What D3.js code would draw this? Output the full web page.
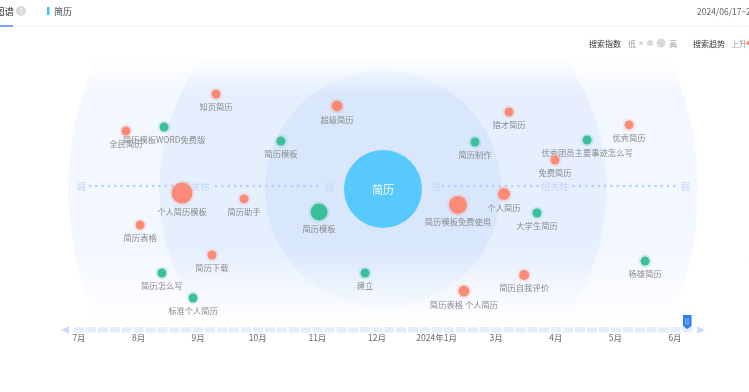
<!DOCTYPE html>
<html>
<head>
<meta charset="utf-8">
<script src="https://cdnjs.cloudflare.com/ajax/libs/d3/7.8.5/d3.min.js"></script>
<style>
html, body { margin: 0; padding: 0; background: #fff; overflow: hidden; }
svg { display: block; filter: blur(0.5px); }
text { font-family: "Noto Sans CJK SC", "Noto Sans", sans-serif; }
</style>
</head>
<body>
<script>
// keywords around 简历
var keywords = ["知页简历","超级简历","猎才简历","优秀简历","简历模板WORD免费版","全民简历","简历模板","简历制作","优秀团员主要事迹怎么写","免费简历","个人简历模板","简历助手","简历模板","个人简历","简历模板免费使用","大学生简历","简历表格","简历下载","简历怎么写","标准个人简历","建立","简历表格 个人简历","简历自我评价","杨雄简历"];
var relevance = [-53,-14.6,40,78.1,-69.5,-81.6,-32.4,29.2,64.8,54.6,-63.8,-44.1,-20.3,38.4,23.8,48.9,-77.1,-54.3,-70.2,-60.3,-5.7,25.7,44.8,83.2];
var spread = [72.5,63.4,58.8,48.9,47.3,44.3,36.6,35.9,37.4,22.1,-3.1,-7.6,-17.6,-3.8,-12.2,-18.3,-27.5,-50.4,-64.1,-83.2,-64.1,-77.9,-65.6,-55];
var searchIndex = [20,30,20,20,20,20,20,20,20,20,110,20,72,36,81,20,20,20,20,20,20,30,25,20];
var trend = ["up","up","up","up","down","up","down","down","down","up","up","up","down","up","up","down","up","up","down","down","down","up","up","down"];
var months = ["7月","8月","9月","10月","11月","12月","2024年1月","3月","4月","5月","6月"];
var rings = [100, 71, 37.5];

var width = 749;
var height = 392;

var x = d3.scaleLinear().domain([-100, 100]).range([68, 698]);
var y = d3.scaleLinear().domain([-100, 100]).range([320, 58]);
var r = d3.scaleSqrt().domain([0, 121]).range([0, 11]);
var trendColor = d3.scaleOrdinal().domain(["up", "down"]).range(["#fb8b76", "#3cbf9b"]);
var timeX = d3.scalePoint().domain(months).range([79, 675]);

var svg = d3.select("body").append("svg")
    .attr("width", width)
    .attr("height", height);

var defs = svg.append("defs");
defs.append("clipPath").attr("id", "plot")
    .append("rect").attr("x", 0).attr("y", 58).attr("width", width).attr("height", 266);

var fadeTop = defs.append("linearGradient").attr("id", "fadeTop").attr("x2", 0).attr("y2", 1);
fadeTop.append("stop").attr("offset", 0).attr("stop-color", "#fff").attr("stop-opacity", 1);
fadeTop.append("stop").attr("offset", 1).attr("stop-color", "#fff").attr("stop-opacity", 0);
var fadeBottom = defs.append("linearGradient").attr("id", "fadeBottom").attr("x2", 0).attr("y2", 1);
fadeBottom.append("stop").attr("offset", 0).attr("stop-color", "#fff").attr("stop-opacity", 0);
fadeBottom.append("stop").attr("offset", 1).attr("stop-color", "#fff").attr("stop-opacity", 1);

// background rings
var cx = x(0), cy = y(0);
var ringColors = ["#f3f7ff", "#e6effe", "#d9e7fd"];
var back = svg.append("g").attr("clip-path", "url(#plot)");
back.selectAll("circle").data(rings).enter().append("circle")
    .attr("cx", cx)
    .attr("cy", cy)
    .attr("r", function(d){ return x(d) - cx; })
    .attr("fill", function(d, i){ return ringColors[i]; });
back.append("rect").attr("x", 0).attr("y", 58).attr("width", width).attr("height", 35).attr("fill", "url(#fadeTop)");
back.append("rect").attr("x", 0).attr("y", 248).attr("width", width).attr("height", 76).attr("fill", "url(#fadeBottom)");

// header
svg.append("line").attr("x1", 0).attr("x2", width).attr("y1", 26).attr("y2", 26).attr("stroke", "#ececec").attr("stroke-width", 1);
svg.append("rect").attr("x", 0).attr("y", 25).attr("width", 13).attr("height", 2).attr("fill", "#7aa7f5");
svg.append("text").attr("x", 14).attr("y", 11).attr("text-anchor", "end").attr("dominant-baseline", "central")
    .attr("font-size", 9.5).attr("fill", "#333").text("图谱");
svg.append("circle").attr("cx", 21).attr("cy", 11).attr("r", 5).attr("fill", "#d9d9d9");
svg.append("text").attr("x", 21).attr("y", 11).attr("text-anchor", "middle").attr("dominant-baseline", "central")
    .attr("font-size", 7).attr("fill", "#fff").text("?");
svg.append("rect").attr("x", 47).attr("y", 7).attr("width", 2.5).attr("height", 8).attr("fill", "#2fc6f5");
svg.append("text").attr("x", 54).attr("y", 11).attr("dominant-baseline", "central")
    .attr("font-size", 9).attr("fill", "#444").text("简历");
svg.append("text").attr("x", 697).attr("y", 11).attr("dominant-baseline", "central")
    .attr("font-size", 8.5).attr("fill", "#666").text("2024/06/17~2024/06/23");

// legend
var legendText = [["搜索指数", 589, "#333"], ["低", 628, "#999"], ["高", 669, "#999"], ["搜索趋势", 693, "#333"], ["上升", 731, "#999"]];
svg.selectAll(".legend").data(legendText).enter().append("text")
    .attr("class", "legend")
    .attr("x", function(d){ return d[1]; })
    .attr("y", 43)
    .attr("dominant-baseline", "central")
    .attr("font-size", 8)
    .attr("fill", function(d){ return d[2]; })
    .text(function(d){ return d[0]; });
svg.selectAll(".legendDot").data([[641, 2], [650, 3], [661, 4.5]]).enter().append("circle")
    .attr("cx", function(d){ return d[0]; })
    .attr("cy", 43)
    .attr("r", function(d){ return d[1]; })
    .attr("fill", "#d8d8d8");
svg.append("circle").attr("cx", 748.5).attr("cy", 43).attr("r", 2).attr("fill", "#fb8b76");

// relevance axis, dots stop around the labels
var axisColor = "#c3d7fb";
var axisSegs = [[-93, -63.5], [-53, -19], [19, 49.5], [60.5, 93]];
svg.selectAll(".axisDots").data(axisSegs).enter().append("line")
    .attr("class", "axisDots")
    .attr("x1", function(d){ return x(d[0]); })
    .attr("x2", function(d){ return x(d[1]); })
    .attr("y1", 186).attr("y2", 186)
    .attr("stroke", "#b5cffb")
    .attr("stroke-width", 2.6)
    .attr("stroke-linecap", "round")
    .attr("stroke-dasharray", "0.1 6.2");
var axisLabels = [["弱", -95.9], ["相关性", -59.5], ["强", -17], ["强", 17], ["相关性", 54.5], ["弱", 96]];
svg.selectAll(".axisLabel").data(axisLabels).enter().append("text")
    .attr("class", "axisLabel")
    .attr("x", function(d){ return x(d[1]); })
    .attr("y", 186)
    .attr("text-anchor", "middle")
    .attr("dominant-baseline", "central")
    .attr("font-size", 9.5)
    .attr("fill", axisColor)
    .text(function(d){ return d[0]; });

// center word
svg.append("circle").attr("cx", cx).attr("cy", cy).attr("r", 39).attr("fill", "#58c9fc");
svg.append("text").attr("x", cx).attr("y", cy).attr("text-anchor", "middle").attr("dominant-baseline", "central")
    .attr("font-size", 11).attr("fill", "#fff").text("简历");

// keyword bubbles
var nodes = keywords.map(function(k, i){
    return {name: k, rel: relevance[i], pos: spread[i], idx: searchIndex[i], trend: trend[i]};
});
var node = svg.selectAll(".node").data(nodes).enter().append("g")
    .attr("class", "node")
    .attr("transform", function(d){ return "translate(" + x(d.rel) + "," + y(d.pos) + ")"; });
node.append("circle")
    .attr("r", function(d){ return r(d.idx) + 2; })
    .attr("fill", function(d){ return trendColor(d.trend); })
    .attr("opacity", 0.18);
node.append("circle")
    .attr("r", function(d){ return r(d.idx); })
    .attr("fill", function(d){ return trendColor(d.trend); });
node.append("text")
    .attr("y", function(d){ return r(d.idx) + 7.5; })
    .attr("text-anchor", "middle")
    .attr("dominant-baseline", "central")
    .attr("font-size", 8.3)
    .attr("fill", "#8a8a8a")
    .text(function(d){ return d.name; });

// time slider
var step = 11.93;
var segs = d3.range(74, 692, step);
svg.selectAll(".seg").data(segs).enter().append("rect")
    .attr("class", "seg")
    .attr("x", function(d){ return d; })
    .attr("y", 327)
    .attr("width", 10)
    .attr("height", 5.5)
    .attr("fill", "#e3edfd");
svg.append("path").attr("d", "M61,330L69,326V334Z").attr("fill", "#c9dcfb");
svg.append("path").attr("d", "M705,330L697,326V334Z").attr("fill", "#c9dcfb");
svg.append("path").attr("d", "M683,315H691.5V326L687.2,329L683,326Z").attr("fill", "#2c7cf0");
svg.selectAll(".grip").data([685.6, 687.2, 688.8]).enter().append("line")
    .attr("class", "grip")
    .attr("x1", function(d){ return d; })
    .attr("x2", function(d){ return d; })
    .attr("y1", 318).attr("y2", 325)
    .attr("stroke", "#9cc2f8").attr("stroke-width", 0.7);
svg.selectAll(".month").data(months).enter().append("text")
    .attr("class", "month")
    .attr("x", function(d){ return timeX(d); })
    .attr("y", 336.5)
    .attr("text-anchor", "middle")
    .attr("dominant-baseline", "central")
    .attr("font-size", 8.5)
    .attr("fill", "#666")
    .text(function(d){ return d; });
</script>
</body>
</html>
